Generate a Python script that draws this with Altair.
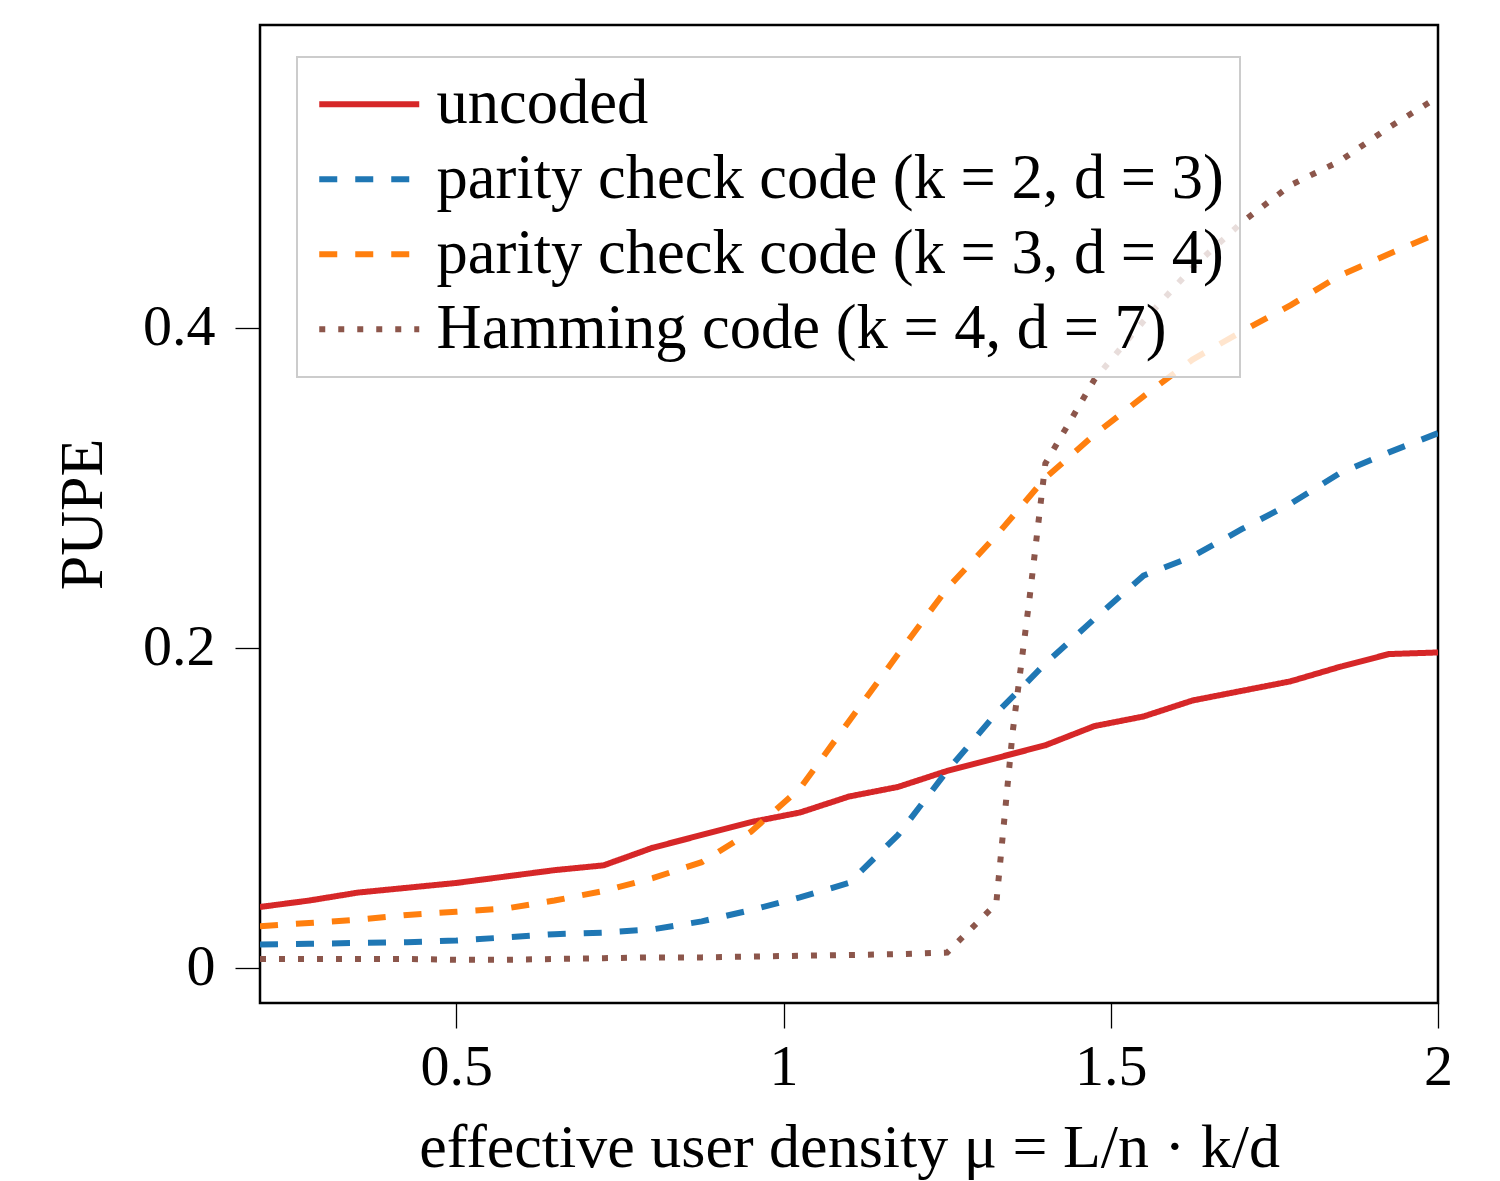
import altair as alt
import pandas as pd

# x grid (effective user density)
x_grid = [0.2, 0.275, 0.35, 0.425, 0.5, 0.575, 0.65, 0.725, 0.8, 0.875, 0.95,
          1.025, 1.1, 1.175, 1.25, 1.325, 1.4, 1.475, 1.55, 1.625, 1.7, 1.775,
          1.85, 1.925, 2.0]

uncoded = [0.038, 0.042, 0.047, 0.050, 0.053, 0.057, 0.061, 0.064, 0.075, 0.083,
           0.091, 0.097, 0.107, 0.113, 0.123, 0.131, 0.139, 0.151, 0.157, 0.167,
           0.173, 0.179, 0.188, 0.196, 0.197]

parity_23 = [0.0145, 0.015, 0.0155, 0.016, 0.017, 0.019, 0.021, 0.022, 0.024, 0.029,
             0.036, 0.044, 0.053, 0.083, 0.123, 0.159, 0.19, 0.218, 0.245, 0.257,
             0.274, 0.29, 0.309, 0.322, 0.334]

parity_34 = [0.026, 0.028, 0.030, 0.033, 0.035, 0.037, 0.042, 0.048, 0.056, 0.066,
             0.085, 0.112, 0.154, 0.196, 0.237, 0.27, 0.306, 0.333, 0.357, 0.38,
             0.3975, 0.414, 0.4325, 0.446, 0.459]

hamming_x = [0.2, 0.275, 0.35, 0.425, 0.5, 0.575, 0.65, 0.725, 0.8, 0.875, 0.95,
             1.025, 1.1, 1.175, 1.25, 1.325, 1.35, 1.375, 1.4, 1.475, 1.55, 1.625,
             1.7, 1.775, 1.85, 1.925, 2.0]
hamming = [0.0055, 0.0055, 0.0055, 0.0055, 0.005, 0.005, 0.0055, 0.006, 0.0065,
           0.0065, 0.007, 0.0075, 0.008, 0.0085, 0.0095, 0.04, 0.147, 0.228, 0.315,
           0.3675, 0.404, 0.4375, 0.4656, 0.489, 0.504, 0.525, 0.544]

series_names = ["uncoded",
                "parity check code (k = 2, d = 3)",
                "parity check code (k = 3, d = 4)",
                "Hamming code (k = 4, d = 7)"]
series_colors = ["#d62728", "#1f77b4", "#ff7f0e", "#8c564b"]
series_dashes = [[1, 0], [18, 18], [18, 18], [6, 13]]

x_ticks = [0.5, 1, 1.5, 2]
y_ticks = [0, 0.2, 0.4]

frames = []
for name, xs, ys in [(series_names[0], x_grid, uncoded),
                     (series_names[1], x_grid, parity_23),
                     (series_names[2], x_grid, parity_34),
                     (series_names[3], hamming_x, hamming)]:
    frames.append(pd.DataFrame({"mu": xs, "pupe": ys, "series": name}))

FONT = "Liberation Serif"

color_scale = alt.Scale(domain=series_names, range=series_colors)
dash_scale = alt.Scale(domain=series_names, range=series_dashes)

layers = []
for i, df in enumerate(frames):
    layers.append(
        alt.Chart(df).mark_line(strokeWidth=6, clip=True, strokeCap="butt").encode(
            x=alt.X("mu:Q",
                    scale=alt.Scale(domain=[0.2, 2.0], nice=False, zero=False),
                    axis=alt.Axis(values=x_ticks, format="~g",
                                  title="effective user density μ = L/n · k/d",
                                  titleX=589, titleY=163, titleBaseline="alphabetic",
                                  titleAnchor="middle", titleAlign="center",
                                  titleFontSize=62,
                                  labelPadding=10, labelFlush=False, labelOverlap=False)),
            y=alt.Y("pupe:Q",
                    scale=alt.Scale(domain=[-0.022, 0.589], nice=False, zero=False),
                    axis=alt.Axis(values=y_ticks, format="~g", title="PUPE",
                                  titleX=-178, titleY=489, titleAngle=-90,
                                  titleBaseline="middle", titleAlign="center",
                                  titleFontSize=62,
                                  labelPadding=20)),
            color=alt.Color("series:N", scale=color_scale, title=None,
                            legend=alt.Legend(orient="none", legendX=37, legendY=32)),
            strokeDash=alt.StrokeDash("series:N", scale=dash_scale, title=None,
                                      legend=alt.Legend(orient="none", legendX=37, legendY=32)),
        )
    )

chart = alt.layer(*layers).properties(
    width=1178, height=978,
    autosize=alt.AutoSizeParams(type="none"),
    padding={"left": 260, "top": 25, "right": 62, "bottom": 178},
).configure_view(
    stroke="black", strokeWidth=2.5
).configure_axis(
    domain=False, grid=False, ticks=True, tickColor="black", tickWidth=1.3,
    tickSize=25, labelFont=FONT, labelFontSize=58, labelColor="black",
    titleFont=FONT, titleFontSize=58, titleColor="black", titleFontWeight="normal"
).configure_legend(
    labelFont=FONT, labelFontSize=62.5, labelColor="black", labelLimit=2000,
    symbolType="M-2,0H2", symbolSize=2500, symbolStrokeWidth=6,
    symbolOffset=25, labelOffset=36, rowPadding=12, padding=16,
    fillColor="rgba(255,255,255,0.8)", strokeColor="#cccccc", strokeWidth=2,
    cornerRadius=0
)

chart.save("out.html", embed_options={"renderer": "svg", "actions": False})
